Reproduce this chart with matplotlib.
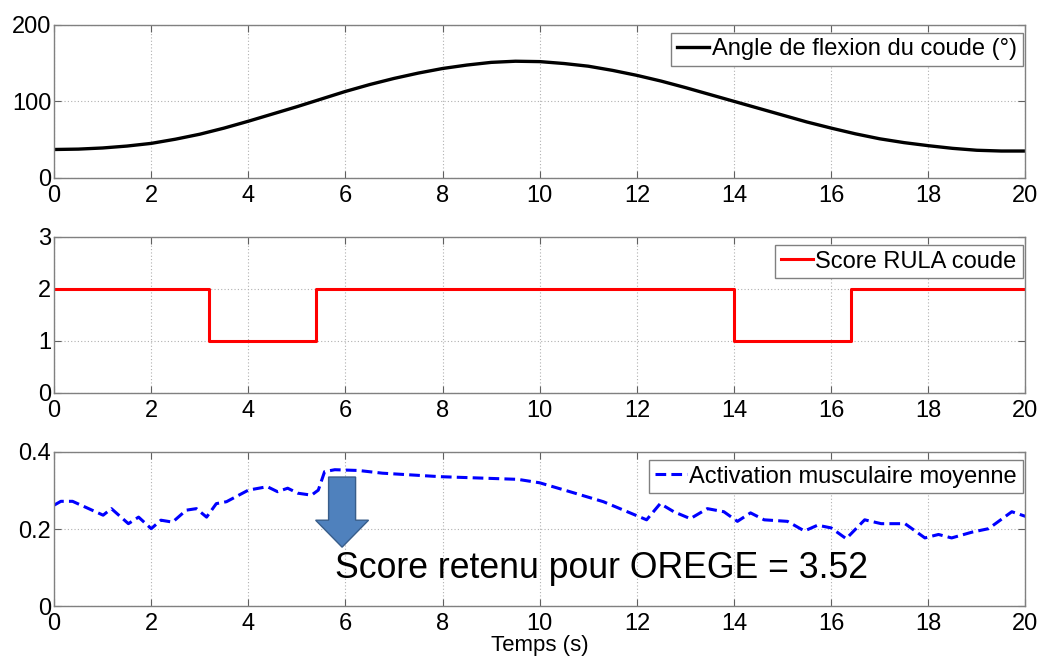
"""Angle du coude, score RULA et activation musculaire (3 panneaux)."""

import matplotlib.pyplot as plt
from matplotlib.patches import FancyArrow

# --- données ---
t_angle = [i * 0.5 for i in range(41)]
angle = [37, 37.5, 39, 41.5, 45, 50.5, 57, 65, 74, 83.5, 93, 103, 113, 122, 130,
         137, 143, 147.5, 151, 152.5, 152, 149.5, 146, 140.5, 134, 126.5, 118,
         109, 100, 91, 82, 73, 65, 57.5, 51, 46, 42, 38.5, 36, 35, 35]

t_rula = [0, 3.2, 3.2, 5.4, 5.4, 14.0, 14.0, 16.4, 16.4, 20]
rula = [2, 2, 1, 1, 2, 2, 1, 1, 2, 2]

t_act = [0, 0.14, 0.38, 1.01, 1.18, 1.53, 1.74, 2.0, 2.2, 2.44, 2.72, 2.93,
         3.14, 3.34, 3.55, 4.0, 4.39, 4.6, 4.81, 5.02, 5.3, 5.44, 5.57, 5.78,
         6.27, 6.76, 7.94, 9.55, 10.0, 10.62, 11.31, 12.2, 12.48, 12.76, 13.1,
         13.45, 13.79, 14.07, 14.34, 14.62, 15.1, 15.45, 15.72, 16.0, 16.31,
         16.69, 17.03, 17.52, 17.93, 18.21, 18.48, 18.9, 19.24, 19.72, 20.0]
act = [0.262, 0.272, 0.272, 0.236, 0.253, 0.214, 0.231, 0.201, 0.223, 0.218,
       0.249, 0.253, 0.231, 0.266, 0.271, 0.301, 0.310, 0.297, 0.306, 0.293,
       0.288, 0.301, 0.349, 0.354, 0.352, 0.345, 0.336, 0.329, 0.320, 0.297,
       0.271, 0.224, 0.266, 0.245, 0.227, 0.253, 0.245, 0.220, 0.242, 0.224,
       0.220, 0.195, 0.210, 0.203, 0.175, 0.224, 0.214, 0.214, 0.177, 0.186,
       0.177, 0.192, 0.201, 0.245, 0.233]

x_ticks = list(range(0, 21, 2))
score_text = "Score retenu pour OREGE = 3.52"

plt.rcParams["font.family"] = ["Liberation Sans", "DejaVu Sans"]

fig = plt.figure(figsize=(10.4, 6.56), dpi=100)
left, width = 0.052, 0.934
boxes = [(0.729, 0.233), (0.401, 0.238), (0.076, 0.235)]
axes = [fig.add_axes([left, b, width, h]) for b, h in boxes]


def style(ax, yticks):
    ax.set_xlim(0, 20)
    ax.set_ylim(yticks[0], yticks[-1])
    ax.set_xticks(x_ticks)
    ax.set_yticks(yticks)
    ax.grid(True, linestyle=(0, (1, 2)), color="#b0b0b0", linewidth=0.8)
    ax.tick_params(direction="in", top=True, right=True, length=5,
                   color="#606060", labelsize=17)
    ax.tick_params(axis="x", pad=5)
    ax.tick_params(axis="y", pad=2)
    for s in ax.spines.values():
        s.set_color("#808080")
        s.set_linewidth(1.0)


def legend(ax):
    leg = ax.legend(loc="upper right", bbox_to_anchor=(0.997, 0.95),
                    fancybox=False, edgecolor="#808080", fontsize=17,
                    handlelength=1.35, handletextpad=0.1, borderpad=0.25,
                    borderaxespad=0, framealpha=1)
    leg.get_frame().set_linewidth(1.0)


ax1, ax2, ax3 = axes
ax1.plot(t_angle, angle, color="black", linewidth=2.4,
         label="Angle de flexion du coude (°)")
style(ax1, [0, 100, 200])
legend(ax1)

ax2.plot(t_rula, rula, color="red", linewidth=2.2, label="Score RULA coude")
style(ax2, [0, 1, 2, 3])
legend(ax2)

ax3.plot(t_act, act, color="blue", linewidth=2.2, linestyle=(0, (3.5, 1.7)),
         label="Activation musculaire moyenne")
style(ax3, [0, 0.2, 0.4])
ax3.set_yticklabels(["0", "0.2", "0.4"])
legend(ax3)
ax3.set_xlabel("Temps (s)", fontsize=16, labelpad=0)

arrow = FancyArrow(5.93, 0.335, 0, -0.112, width=0.556, head_width=1.09,
                   head_length=0.07, length_includes_head=False,
                   facecolor="#4F81BD", edgecolor="#385D8A", linewidth=1.0,
                   zorder=5)
ax3.add_patch(arrow)
ax3.text(5.79, 0.073, score_text, fontsize=25.7, va="baseline", ha="left",
         zorder=6)

fig.savefig("out.png", dpi=100)
